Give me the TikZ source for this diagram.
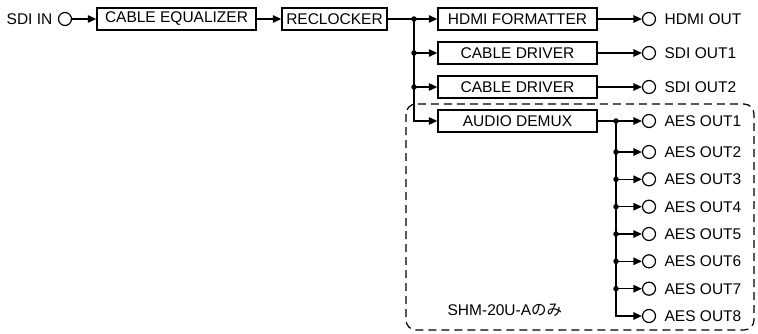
\documentclass[tikz,border=0pt]{standalone}
\usepackage{fontspec}
\setmainfont{Liberation Sans}
\newfontfamily\jpfont{Noto Sans CJK JP}
\usetikzlibrary{arrows.meta}
\begin{document}
\begin{tikzpicture}[x=1pt,y=-1pt,
  font=\fontsize{15.5}{18}\selectfont,
  line width=1.3pt,
  blk/.style={draw, line width=1.4pt, minimum height=22pt, inner sep=0pt},
  port/.style={draw, circle, minimum size=13pt, inner sep=0pt, line width=1.2pt},
  lbl/.style={anchor=west, inner sep=0pt},
  arr/.style={-{Triangle[length=8.5pt,width=7.5pt]}},
  jdot/.style={circle, fill, inner sep=0pt, minimum size=5.5pt}]
\useasboundingbox (0,0) rectangle (758,333);

% dashed region
\draw[dash pattern=on 8pt off 5pt, line width=1.2pt, rounded corners=10pt]
  (406,104) rectangle (754,330);

% input
\node[anchor=east, inner sep=0pt] (sdiin) at (53,19) {SDI IN};
\node[port] (inc) at (65,19) {};
\node[blk, minimum width=159pt] (eq) at (176.5,19) {CABLE EQUALIZER};
\node[blk, minimum width=105pt] (rc) at (334.5,19) {RECLOCKER};

% right column blocks
\node[blk, minimum width=159pt] (hdmi) at (517.5,19) {HDMI FORMATTER};
\node[blk, minimum width=159pt] (cd1) at (517.5,53) {CABLE DRIVER};
\node[blk, minimum width=159pt] (cd2) at (517.5,87) {CABLE DRIVER};
\node[blk, minimum width=159pt] (ad) at (517.5,121) {AUDIO DEMUX};

% output ports
\node[port] (ho) at (649,19) {};
\node[port] (s1) at (649,53) {};
\node[port] (s2) at (649,87) {};
\node[lbl] (hol) at (664,19) {HDMI OUT};
\node[lbl] (s1l) at (664,53) {SDI OUT1};
\node[lbl] (s2l) at (664,87) {SDI OUT2};

\foreach \k/\y in {1/121,2/152,3/179.3,4/206.7,5/234,6/261.3,7/288.7,8/316}{
  \node[port] (a\k) at (649,\y) {};
  \node[lbl] (a\k l) at (664,\y) {AES OUT\k};
  \coordinate (aj\k) at (616,\y);
}

\node[lbl] (note) at (447,310) {SHM-20U-A{\jpfont のみ}};

% bus coordinates
\coordinate (j0) at (414,19);
\coordinate (j1) at (414,53);
\coordinate (j2) at (414,87);

% connectors
\draw[arr] (inc.east) -- (eq.west);
\draw[arr] (eq.east) -- (rc.west);
\draw (rc.east) -- (j0);
\draw[arr] (j0) -- (hdmi.west);
\draw[arr] (j1) -- (cd1.west);
\draw[arr] (j2) -- (cd2.west);
\draw[arr] (j0) |- (ad.west);

\draw[arr] (hdmi.east) -- (ho.west);
\draw[arr] (cd1.east) -- (s1.west);
\draw[arr] (cd2.east) -- (s2.west);

\draw (ad.east) -- (aj1);
\foreach \k in {1,...,7}{
  \draw[arr] (aj\k) -- (a\k.west);
}
\draw[arr] (aj1) |- (a8.west);

% junction dots
\foreach \p in {j0,j1,j2,aj1,aj2,aj3,aj4,aj5,aj6,aj7}{
  \node[jdot] at (\p) {};
}
\end{tikzpicture}
\end{document}
